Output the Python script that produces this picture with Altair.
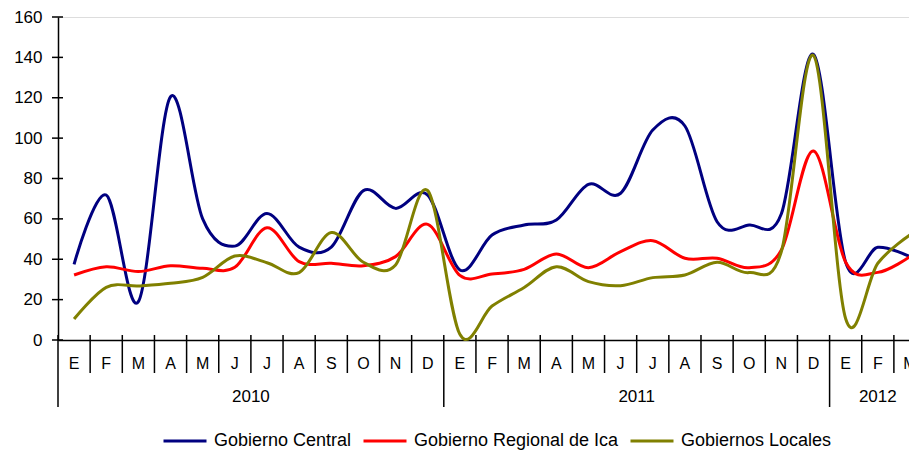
import altair as alt
import pandas as pd

# ---- data ----
months = ["E", "F", "M", "A", "M", "J", "J", "A", "S", "O", "N", "D"] * 2 + ["E", "F", "M"]
years = ["2010", "2011", "2012"]
year_starts = [0, 12, 24]
year_ends = [12, 24, 27]

central = [37.5, 71.8, 19.0, 120.5, 60.0, 46.5, 62.7, 46.0, 46.0, 74.0, 65.2, 71.8,
           34.7, 52.0, 57.0, 59.4, 77.1, 72.7, 104.0, 106.0, 58.6, 57.0, 62.5, 141.5,
           38.5, 45.9, 41.3]
regional = [32.2, 36.3, 33.9, 36.8, 35.5, 36.0, 55.6, 38.8, 38.0, 36.8, 41.3, 57.3,
            32.0, 32.7, 35.0, 42.6, 35.8, 43.8, 49.2, 40.5, 40.5, 35.8, 44.6, 93.6,
            38.5, 33.5, 41.3]
locales = [10.4, 26.1, 26.8, 28.1, 31.0, 41.6, 38.3, 33.4, 53.2, 38.5, 37.2, 74.0,
           2.8, 16.8, 26.0, 36.3, 28.9, 26.9, 30.9, 32.2, 38.5, 33.4, 43.8, 140.9,
           10.5, 38.0, 52.0]

series_names = ["Gobierno Central", "Gobierno Regional de Ica", "Gobiernos Locales"]
series_colors = ["#000080", "#FF0000", "#808000"]
y_ticks = [0, 20, 40, 60, 80, 100, 120, 140, 160]

FONT = "Liberation Sans"
W, H = 851, 323

# ---- tables ----
rows = []
for name, vals in zip(series_names, [central, regional, locales]):
    for i, v in enumerate(vals):
        rows.append({"pos": i + 0.5, "value": v, "series": name})
lines_df = pd.DataFrame(rows)

month_df = pd.DataFrame({"pos": [i + 0.5 for i in range(len(months))], "label": months})
year_df = pd.DataFrame({"pos": [(a + b) / 2 for a, b in zip(year_starts, year_ends)], "label": years})
msep_df = pd.DataFrame({"pos": [i for i in range(1, len(months)) if i not in year_starts]})
ysep_df = pd.DataFrame({"pos": year_starts})
ytick_df = pd.DataFrame({"value": y_ticks})

xscale = alt.Scale(domain=[0, 26.47], nice=False, zero=False)
yscale = alt.Scale(domain=[0, 160], nice=False)

x_axis = alt.Axis(labels=False, ticks=False, grid=False, title=None,
                  domainColor="black", domainWidth=1.5)
y_axis = alt.Axis(values=y_ticks, ticks=False, grid=False, title=None,
                  labelPadding=16, labelFontSize=17, labelFont=FONT,
                  labelColor="black", domainColor="black", domainWidth=1.5)

lines = alt.Chart(lines_df).mark_line(interpolate="cardinal", strokeWidth=3).encode(
    x=alt.X("pos:Q", scale=xscale, axis=x_axis),
    y=alt.Y("value:Q", scale=yscale, axis=y_axis),
    color=alt.Color("series:N",
                    scale=alt.Scale(domain=series_names, range=series_colors),
                    sort=series_names,
                    legend=alt.Legend(orient="none", legendX=104, legendY=401,
                                      direction="horizontal", title=None,
                                      symbolType="stroke", symbolSize=1849,
                                      symbolStrokeWidth=3, labelFontSize=18,
                                      labelFont=FONT, labelColor="black",
                                      labelOffset=6, columnPadding=5,
                                      labelLimit=400, padding=0)),
)

yticks = alt.Chart(ytick_df).mark_rule(color="black", strokeWidth=1.5).encode(
    y=alt.Y("value:Q", scale=yscale, axis=y_axis),
    x=alt.value(-6), x2=alt.value(5),
)

msep = alt.Chart(msep_df).mark_rule(color="black", strokeWidth=1.5).encode(
    x=alt.X("pos:Q", scale=xscale, axis=x_axis),
    y=alt.value(H - 5), y2=alt.value(H + 33),
)

ysep = alt.Chart(ysep_df).mark_rule(color="black", strokeWidth=1.5).encode(
    x=alt.X("pos:Q", scale=xscale, axis=x_axis),
    y=alt.value(H - 5), y2=alt.value(H + 67),
)

mlabels = alt.Chart(month_df).mark_text(fontSize=16, font=FONT, color="black",
                                        baseline="middle", align="center").encode(
    x=alt.X("pos:Q", scale=xscale, axis=x_axis),
    y=alt.value(H + 24),
    text="label:N",
)

ylabels = alt.Chart(year_df).mark_text(fontSize=17, font=FONT, color="black",
                                       baseline="middle", align="center").encode(
    x=alt.X("pos:Q", scale=xscale, axis=x_axis),
    y=alt.value(H + 57),
    text="label:N",
)

chart = alt.layer(lines, yticks, msep, ysep, mlabels, ylabels).properties(
    width=W, height=H,
    autosize=alt.AutoSizeParams(type="none"),
    padding={"left": 50, "top": 9, "right": 0, "bottom": 112},
).configure_view(stroke=None).configure(background="white")

chart.save("out.html", embed_options={"renderer": "svg", "actions": False})
